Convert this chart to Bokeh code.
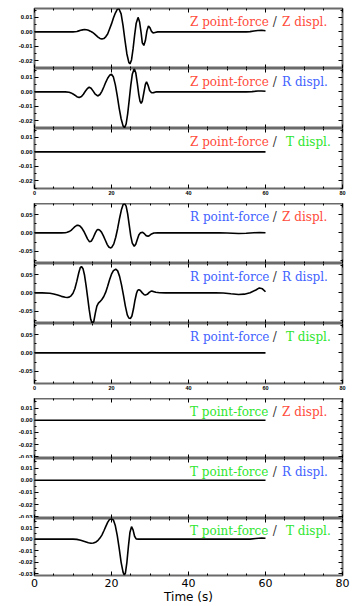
import numpy as np
from bokeh.plotting import figure
from bokeh.models import (Range1d, LinearAxis, FixedTicker, NumeralTickFormatter, Label,
                          CustomLabelingPolicy)
from bokeh.layouts import column
from bokeh.embed import file_html
from bokeh.resources import INLINE

# ---------------- data (time in s, displacement in units of 1e-3) ----------------
TIME_TICKS = [0, 20, 40, 60, 80]
TIME_MINOR = [5, 10, 15, 25, 30, 35, 45, 50, 55, 65, 70, 75]

# Z point-force
zz_t = [0, 5, 10, 10.5, 11, 11.5, 12, 12.5, 13, 13.5, 14, 14.5, 15, 15.5, 16, 16.5, 17, 17.5, 18,
        18.5, 19, 19.5, 20, 20.5, 21, 21.5, 21.9, 22.5, 23, 23.5, 24, 24.5, 24.8, 25.2, 25.6, 26,
        26.4, 26.9, 27.3, 27.7, 28, 28.4, 28.8, 29.2, 29.6, 30, 30.4, 30.8, 31.3, 32, 40, 50, 55,
        56, 57, 58, 59, 60]
zz_mv = [0, 0, 0, 0.1, 0.3, 0.7, 1.1, 1.4, 1.6, 1.5, 1.1, 0.5, -0.2, -1.2, -2.4, -3.6, -4.5, -4.9,
         -4.6, -3.4, -1.5, 2.0, 5.5, 9.5, 13.0, 15.5, 16.1, 12.4, 4.3, -5.9, -15.2, -21.0, -22.0,
         -19.3, -11.7, -2.4, 5.7, 10.0, 6.8, -0.7, -7.5, -9.3, -6.0, 0.7, 4.0, 2.8, 0.3, -0.7,
         -0.4, 0, 0, 0, 0, 0.2, 0.6, 1.0, 1.1, 0.8]
zr_t = [0, 5, 8, 9, 9.5, 10, 10.5, 11, 11.6, 12.2, 12.7, 13.2, 13.7, 14.2, 14.7, 15.2, 15.7, 16.4,
        17.0, 17.5, 18, 18.5, 19, 19.5, 20, 20.5, 21, 21.5, 22, 22.5, 23, 23.4, 23.8, 24.2, 24.6,
        25, 25.4, 25.9, 26.3, 26.7, 27.1, 27.4, 27.7, 28.0, 28.4, 28.8, 29.1, 29.5, 29.9, 30.4,
        30.9, 31.5, 40, 50, 55, 56.5, 58, 59, 60]
zr_mv = [0, 0, 0, -0.3, -0.7, -1.4, -2.3, -3.3, -3.9, -3.2, -1.6, 0.4, 2.2, 3.2, 2.5, 0.7, -1.3,
         -2.8, -1.8, 0.4, 3.4, 6.6, 9.4, 11.4, 12.1, 10.2, 4.8, -2.7, -11.3, -18.5, -23.4, -24.6,
         -22.1, -15.1, -5.7, 4.3, 12.1, 16.0, 13.2, 6.1, -2.0, -6.4, -8.0, -6.3, -0.6, 5.2, 6.9,
         4.5, 1.0, -0.6, -0.5, 0, 0, 0, 0, 0.2, 0.6, 0.6, 0.4]
zt_t = [0, 60]
zt_mv = [0, 0]

# R point-force
rz_t = [0, 5, 7, 8, 8.5, 9, 9.5, 10, 10.5, 11, 11.3, 11.8, 12.3, 12.8, 13.3, 13.8, 14.3, 14.8,
        15.3, 15.8, 16.2, 16.5, 16.9, 17.4, 17.9, 18.4, 18.9, 19.3, 19.7, 20.1, 20.6, 21.1, 21.6,
        22.1, 22.6, 23.0, 23.4, 23.8, 24.2, 24.6, 25.0, 25.4, 25.9, 26.3, 26.7, 27.1, 27.5, 28.1,
        28.6, 29.0, 29.5, 29.9, 30.4, 31, 32, 40, 48, 50, 53, 55, 57, 58.5, 60]
rz_mv = [0, 0, 0, 0.5, 1.5, 3.5, 7, 12, 17, 20.5, 21, 19, 13, 4.5, -6, -17, -24.5, -22, -12, 0,
         7.5, 9.5, 8, 2, -8, -20, -32, -38.5, -41, -39, -30, -12, 12, 40, 64, 77, 80, 73, 52, 22,
         -8, -28, -36.5, -31, -18, -6, 0, 1.5, -3, -7.5, -9, -7, -3, -0.5, 0, 0, 0, -0.5, -1.5,
         -1, 0.5, 1, 0.5]
rr_t = [0, 2, 4, 5, 6, 7, 8, 8.5, 9, 9.5, 10, 10.5, 11, 11.5, 11.9, 12.2, 12.6, 13, 13.4, 13.8,
        14.2, 14.6, 15.0, 15.4, 15.8, 16.2, 16.6, 17.0, 17.5, 18, 18.5, 19, 19.5, 20, 20.5, 21.1,
        21.6, 22.1, 22.6, 23.1, 23.6, 24.1, 24.5, 24.9, 25.3, 25.7, 26.1, 26.5, 26.8, 27.1, 27.5,
        28, 28.5, 28.8, 29.3, 29.8, 30.3, 30.8, 31.5, 32.5, 34, 40, 47, 49, 51, 53, 54.5, 56,
        57.5, 58.4, 59.2, 60]
rr_mv = [0, 0, -1, -3, -6, -9.5, -12, -12.5, -11.5, -8, -1, 12, 32, 55, 69, 72, 66, 48, 20, -12,
         -45, -72, -83.5, -78, -55, -36, -28, -24, -18, -10, 2, 18, 36, 51, 60.5, 64.5, 60, 45, 22,
         -6, -36, -60, -68.5, -70, -63, -44, -20, -1, 7, 9, 6.5, 0, -5, -6, -4, 1.5, 5, 4, 1.5,
         0.3, 0, 0, 0, -0.5, -2.5, -4.4, -3.5, 0.5, 8, 13.5, 11, 3]
rt_t = [0, 60]
rt_mv = [0, 0]

# T point-force
tz_t = [0, 60]
tz_mv = [0, 0]
tr_t = [0, 60]
tr_mv = [0, 0]
tt_t = [0, 5, 10, 11, 12, 13, 14, 14.7, 15.3, 16, 16.5, 17, 17.5, 18, 18.5, 19, 19.5, 20, 20.5,
        21, 21.5, 22, 22.5, 23, 23.3, 23.6, 24, 24.4, 24.8, 25.2, 25.6, 26, 26.4, 27, 30, 40, 50,
        56, 57.5, 59, 60]
tt_mv = [0, 0, 0, -0.2, -0.9, -2.0, -3.1, -3.6, -3.4, -2.4, -1, 0.9, 3.5, 7, 10.8, 14.5, 17,
         17.8, 16.5, 11.5, 3, -8, -20, -28.5, -31, -29.5, -20, -6, 6, 10.7, 8, 2.5, 0.2, 0, 0, 0,
         0, 0, 0.5, 1.0, 0.8]

# ---------------- styling ----------------
RED = "#ff4b3b"
BLUE = "#4262ff"
GREEN = "#2ee62e"
COMP_COLOR = {"Z": RED, "R": BLUE, "T": GREEN}

groups = [
    dict(force="Z", yr=(-0.0252, 0.0161),
         major=[-0.02, -0.01, 0.0, 0.01], minor=[-0.025, -0.015, -0.005, 0.005, 0.015],
         traces=[("Z", zz_t, zz_mv), ("R", zr_t, zr_mv), ("T", zt_t, zt_mv)]),
    dict(force="R", yr=(-0.0835, 0.0801),
         major=[-0.05, 0.0, 0.05], minor=[-0.075, -0.025, 0.025, 0.075],
         traces=[("Z", rz_t, rz_mv), ("R", rr_t, rr_mv), ("T", rt_t, rt_mv)]),
    dict(force="T", yr=(-0.0314, 0.0178),
         major=[-0.03, -0.02, -0.01, 0.0, 0.01], minor=[-0.025, -0.015, -0.005, 0.005, 0.015],
         traces=[("Z", tz_t, tz_mv), ("R", tr_t, tr_mv), ("T", tt_t, tt_mv)]),
]

FRAME_H = 60

NO_LABELS_JS = """
try { indices.clear() } catch (e) { for (const i of Array.from(indices)) { indices.unset(i) } }
return indices
"""


def style_axis(ax, ticker, labels, size="6px", font="Liberation Sans", style="bold"):
    ax.ticker = ticker
    ax.axis_line_color = None
    ax.major_tick_in = 4
    ax.major_tick_out = 0
    ax.minor_tick_in = 2
    ax.minor_tick_out = 0
    ax.major_tick_line_color = "black"
    ax.minor_tick_line_color = "black"
    ax.major_tick_line_width = 1
    ax.minor_tick_line_width = 1
    if labels:
        ax.major_label_text_font = font
        ax.major_label_text_font_size = size
        ax.major_label_text_font_style = style
        ax.major_label_text_color = "black"
        ax.major_label_standoff = 2
    else:
        ax.major_label_text_font_size = "0px"
        ax.major_label_standoff = 0
        ax.major_label_policy = CustomLabelingPolicy(code=NO_LABELS_JS)


figs = []
idx = 0
for g in groups:
    for j, (disp, t, mv) in enumerate(g["traces"]):
        top_b = 8 if idx == 0 else 0
        if idx == 8:
            bot_b = 28
        elif j == 2:
            bot_b = 15
        else:
            bot_b = 0
        y0, y1 = g["yr"]
        p = figure(width=353, height=FRAME_H + top_b + bot_b,
                   x_range=Range1d(0, 80), y_range=Range1d(y0, y1),
                   output_backend="svg", toolbar_location=None,
                   x_axis_location=None, y_axis_location=None,
                   min_border_left=34, min_border_right=11,
                   min_border_top=top_b, min_border_bottom=bot_b)
        p.grid.visible = False
        p.outline_line_color = "#6a6a6a"
        p.outline_line_width = 2
        p.background_fill_color = "white"
        p.border_fill_color = "white"

        xt = FixedTicker(ticks=TIME_TICKS, minor_ticks=TIME_MINOR)
        yt = FixedTicker(ticks=g["major"], minor_ticks=g["minor"])

        left = LinearAxis(formatter=NumeralTickFormatter(format="0.00"))
        style_axis(left, yt, True, size="6px")
        p.add_layout(left, "left")

        right = LinearAxis()
        style_axis(right, FixedTicker(ticks=g["major"], minor_ticks=g["minor"]), False)
        p.add_layout(right, "right")

        top = LinearAxis()
        style_axis(top, FixedTicker(ticks=TIME_TICKS, minor_ticks=TIME_MINOR), False)
        p.add_layout(top, "above")

        bottom = LinearAxis()
        if idx == 8:
            style_axis(bottom, xt, True, size="11px", font="DejaVu Sans", style="normal")
            bottom.major_label_standoff = 3
            bottom.axis_label = "Time (s)"
            bottom.axis_label_text_font = "DejaVu Sans"
            bottom.axis_label_text_font_size = "12px"
            bottom.axis_label_text_font_style = "normal"
            bottom.axis_label_text_color = "black"
            bottom.axis_label_standoff = 0
        elif j == 2:
            style_axis(bottom, xt, True, size="5.5px")
        else:
            style_axis(bottom, xt, False)
        p.add_layout(bottom, "below")

        p.line(t, np.array(mv) * 1e-3, line_color="black", line_width=1.6)

        # title pieces
        ty = y1 - 13.6 * (y1 - y0) / FRAME_H
        fcol = COMP_COLOR[g["force"]]
        dcol = COMP_COLOR[disp]
        dx = 65.3 if disp == "T" else 64.3
        for xx, txt, col in [(40.4, f"{g['force']} point-force", fcol),
                             (61.9, "/", "#333333"),
                             (dx, f"{disp} displ.", dcol)]:
            p.add_layout(Label(x=xx, y=ty, text=txt, text_color=col,
                               text_font="DejaVu Serif", text_font_size="12px",
                               text_align="left", text_baseline="alphabetic"))
        figs.append(p)
        idx += 1

layout = column(*figs, spacing=0)
open("out.html", "w").write(file_html(layout, INLINE))
